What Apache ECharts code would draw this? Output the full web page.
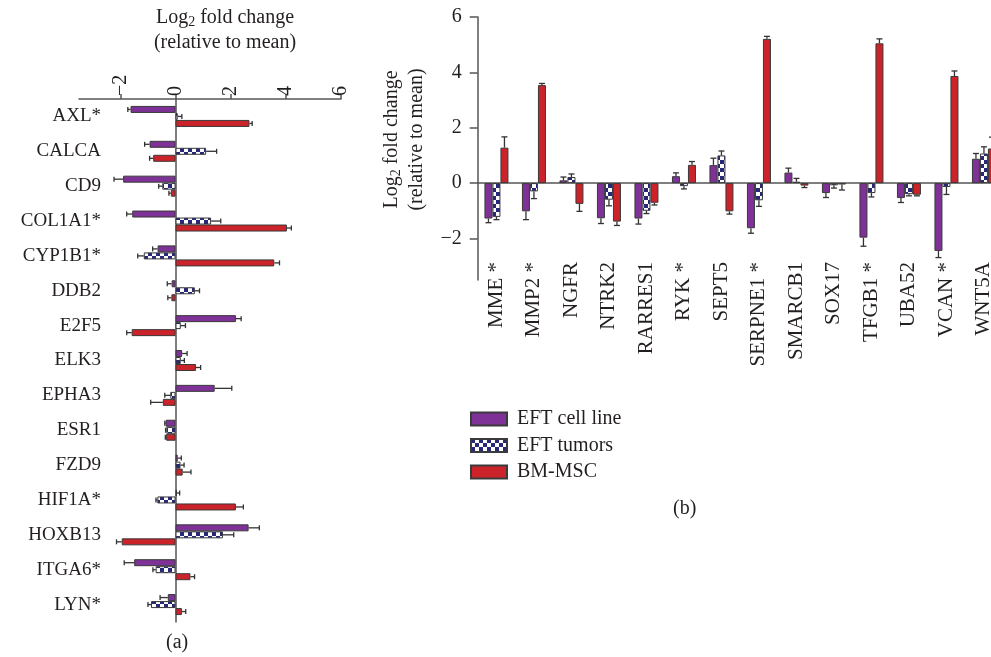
<!DOCTYPE html>
<html><head><meta charset="utf-8">
<script src="https://cdn.jsdelivr.net/npm/echarts@6/dist/echarts.min.js"></script>
<style>html,body{margin:0;padding:0;background:#fff}#c{width:991px;height:657px}</style>
</head><body><div id="c"></div>
<script>
// ---------- data ----------
const seriesNames = ['EFT cell line', 'EFT tumors', 'BM-MSC'];

const genesA = ['AXL*','CALCA','CD9','COL1A1*','CYP1B1*','DDB2','E2F5','ELK3','EPHA3','ESR1','FZD9','HIF1A*','HOXB13','ITGA6*','LYN*'];
const cellLineA    = [-1.63,-0.94,-1.90,-1.57,-0.65,-0.14, 2.19, 0.24, 1.42,-0.36, 0.08, 0.05, 2.65,-1.50,-0.28];
const cellLineAErr = [ 0.10, 0.18, 0.33, 0.20, 0.18, 0.16, 0.19, 0.18, 0.62, 0.03, 0.13, 0.10, 0.39, 0.36, 0.28];
const tumorsA      = [ 0.08, 1.11,-0.48, 1.29,-1.15, 0.70, 0.19, 0.19,-0.19,-0.33, 0.18,-0.66, 1.72,-0.72,-0.89];
const tumorsAErr   = [ 0.15, 0.38, 0.13, 0.35, 0.22, 0.17, 0.17, 0.13, 0.20, 0.03, 0.13, 0.05, 0.39, 0.10, 0.11];
const mscA         = [ 2.68,-0.81,-0.17, 4.04, 3.58,-0.15,-1.59, 0.74,-0.46,-0.34, 0.26, 2.19,-1.95, 0.54, 0.23];
const mscAErr      = [ 0.10, 0.13, 0.07, 0.16, 0.19, 0.13, 0.18, 0.17, 0.44, 0.03, 0.30, 0.27, 0.19, 0.15, 0.14];

const genesB = ['MME *','MMP2 *','NGFR','NTRK2','RARRES1','RYK *','SEPT5','SERPNE1 *','SMARCB1','SOX17','TFGB1 *','UBA52','VCAN *','WNT5A'];
const cellLineB    = [-1.28,-1.02, 0.10,-1.27,-1.28, 0.25, 0.65,-1.63, 0.38,-0.36,-1.97,-0.54,-2.45, 0.88];
const cellLineBErr = [ 0.15, 0.30, 0.12, 0.19, 0.20, 0.12, 0.25, 0.18, 0.16, 0.16, 0.31, 0.16, 0.24, 0.19];
const tumorsB      = [-1.22,-0.30, 0.22,-0.60,-1.00,-0.11, 1.00,-0.62, 0.05,-0.08,-0.36,-0.40,-0.14, 1.07];
const tumorsBErr   = [ 0.10, 0.26, 0.11, 0.22, 0.10, 0.10, 0.16, 0.22, 0.12, 0.10, 0.14, 0.06, 0.27, 0.24];
const mscB         = [ 1.28, 3.54,-0.75,-1.39,-0.71, 0.66,-1.02, 5.21,-0.09,-0.05, 5.05,-0.42, 3.87, 1.25];
const mscBErr      = [ 0.39, 0.06, 0.27, 0.14, 0.08, 0.12, 0.10, 0.09, 0.07, 0.20, 0.16, 0.04, 0.18, 0.41];

const tickValues = [-2, 0, 2, 4, 6];
const axisMin = -3.5, axisMax = 6;

// ---------- styles ----------
const FONT = "'Liberation Serif','DejaVu Serif',serif";
const TXT = '#231f20';
const AXC = '#555';
const BORDER = '#3a3a3a';
function checker() {
  const c = document.createElement('canvas'); c.width = 8; c.height = 8;
  const g = c.getContext('2d');
  g.fillStyle = '#ffffff'; g.fillRect(0, 0, 8, 8);
  g.fillStyle = '#27287a'; g.fillRect(0, 0, 4, 4); g.fillRect(4, 4, 4, 4);
  return c;
}
const fills = ['#7e3196', {image: checker(), repeat: 'repeat'}, '#cc2229'];

const minusFmt = v => (v < 0 ? '\u2212' + Math.abs(v) : String(v));

const chart = echarts.init(document.getElementById('c'), null, {renderer: 'canvas'});

const BW_A = 7, BW_B = 8;

function errSeries(vals, errs, s, horizontal, gi) {
  const data = vals.map((v, i) => horizontal ? [v, i, errs[i]] : [i, v, errs[i]]);
  const bw = horizontal ? BW_A : BW_B;
  return {
    type: 'custom', xAxisIndex: gi, yAxisIndex: gi, z: 5, silent: true,
    encode: {x: 0, y: 1},
    data,
    renderItem: function (params, api) {
      const ls = {stroke: '#333', lineWidth: 1.3};
      let children;
      if (horizontal) {
        const v = api.value(0), i = api.value(1), e = api.value(2);
        const sg = v >= 0 ? 1 : -1;
        const p0 = api.coord([v, i]), p1 = api.coord([v + sg * e, i]);
        const y = p0[1] + (s - 1) * bw;
        children = [
          {type: 'line', shape: {x1: p0[0], y1: y, x2: p1[0], y2: y}, style: ls},
          {type: 'line', shape: {x1: p1[0], y1: y - 2.5, x2: p1[0], y2: y + 2.5}, style: ls}
        ];
      } else {
        const i = api.value(0), v = api.value(1), e = api.value(2);
        const sg = v >= 0 ? 1 : -1;
        const p0 = api.coord([i, v]), p1 = api.coord([i, v + sg * e]);
        const x = p0[0] + (s - 1) * bw;
        children = [
          {type: 'line', shape: {x1: x, y1: p0[1], x2: x, y2: p1[1]}, style: ls},
          {type: 'line', shape: {x1: x - 3, y1: p1[1], x2: x + 3, y2: p1[1]}, style: ls}
        ];
      }
      return {type: 'group', children};
    }
  };
}

const valsA = [cellLineA, tumorsA, mscA], errsA = [cellLineAErr, tumorsAErr, mscAErr];
const valsB = [cellLineB, tumorsB, mscB], errsB = [cellLineBErr, tumorsBErr, mscBErr];

const series = [];
for (let s = 0; s < 3; s++) {
  series.push({
    type: 'bar', name: seriesNames[s], xAxisIndex: 0, yAxisIndex: 0,
    data: valsA[s], barWidth: BW_A, barGap: '0%',
    itemStyle: {color: fills[s], borderColor: BORDER, borderWidth: 1}
  });
}
for (let s = 0; s < 3; s++) {
  series.push({
    type: 'bar', name: seriesNames[s], xAxisIndex: 1, yAxisIndex: 1,
    data: valsB[s], barWidth: BW_B, barGap: '0%',
    itemStyle: {color: fills[s], borderColor: BORDER, borderWidth: 1}
  });
}
for (let s = 0; s < 3; s++) series.push(errSeries(valsA[s], errsA[s], s, true, 0));
for (let s = 0; s < 3; s++) series.push(errSeries(valsB[s], errsB[s], s, false, 1));

const nameRich = {
  sub: {fontFamily: FONT, fontSize: 14, color: TXT, padding: [9, 0, 0, 0]},
  n: {fontFamily: FONT, fontSize: 20, color: TXT}
};
const axisTitle = '{n|Log}{sub|2}{n| fold change}\n{n|(relative to mean)}';

const option = {
  animation: false,
  backgroundColor: '#fff',
  textStyle: {fontFamily: FONT, color: TXT},
  grid: [
    {left: 79, right: 650, top: 99, bottom: 35, outerBoundsMode: 'none', containLabel: false},
    {left: 477.7, right: -11.7, top: 17, bottom: 377, outerBoundsMode: 'none', containLabel: false}
  ],
  legend: {
    orient: 'vertical', left: 470, top: 409, itemWidth: 36, itemHeight: 13, itemGap: 6.5,
    icon: 'rect',
    data: seriesNames, selectedMode: false, padding: 0,
    textStyle: {fontFamily: FONT, fontSize: 20, lineHeight: 20, color: TXT, padding: [0, 0, 0, 5]}
  },
  xAxis: [
    {
      type: 'value', gridIndex: 0, position: 'top', min: axisMin, max: axisMax,
      axisLine: {show: true, onZero: false, lineStyle: {color: AXC, width: 1.5}},
      axisTick: {show: true, length: 5, customValues: tickValues, lineStyle: {color: AXC, width: 1.5}},
      axisLabel: {customValues: tickValues, rotate: -90, margin: 3, fontFamily: FONT, fontSize: 20, color: TXT,
        formatter: v => tickValues.includes(v) ? minusFmt(v) : ''},
      splitLine: {show: false},
      name: axisTitle, nameLocation: 'middle', nameGap: 44,
      nameTextStyle: {rich: nameRich, lineHeight: 25, padding: [0, 0, 0, 30]}
    },
    {
      type: 'category', gridIndex: 1, data: genesB,
      axisLine: {show: true, onZero: true, lineStyle: {color: AXC, width: 1.5}},
      axisTick: {show: false},
      axisLabel: {interval: 0, rotate: 90, margin: -18, fontFamily: FONT, fontSize: 21, color: TXT}
    }
  ],
  yAxis: [
    {
      type: 'category', gridIndex: 0, data: genesA, inverse: true,
      axisLine: {show: true, onZero: true, lineStyle: {color: AXC, width: 1.5}},
      axisTick: {show: false},
      axisLabel: {interval: 0, margin: -22, fontFamily: FONT, fontSize: 19, color: TXT}
    },
    {
      type: 'value', gridIndex: 1, min: axisMin, max: axisMax,
      axisLine: {show: true, onZero: false, lineStyle: {color: AXC, width: 1.5}},
      axisTick: {show: true, length: 8, customValues: tickValues, lineStyle: {color: AXC, width: 1.5}},
      axisLabel: {customValues: tickValues, margin: 16, fontFamily: FONT, fontSize: 20, color: TXT,
        formatter: v => tickValues.includes(v) ? minusFmt(v) : ''},
      splitLine: {show: false},
      name: axisTitle, nameLocation: 'middle', nameGap: 44,
      nameTextStyle: {rich: nameRich, lineHeight: 25, padding: [0, 0, 0, 18]}
    }
  ],
  graphic: [
    {type: 'text', left: 166, top: 633, style: {text: '(a)', font: '20px ' + FONT, fill: TXT}},
    {type: 'text', left: 673, top: 499, style: {text: '(b)', font: '20px ' + FONT, fill: TXT}}
  ],
  series
};
chart.setOption(option);
</script>
</body></html>
